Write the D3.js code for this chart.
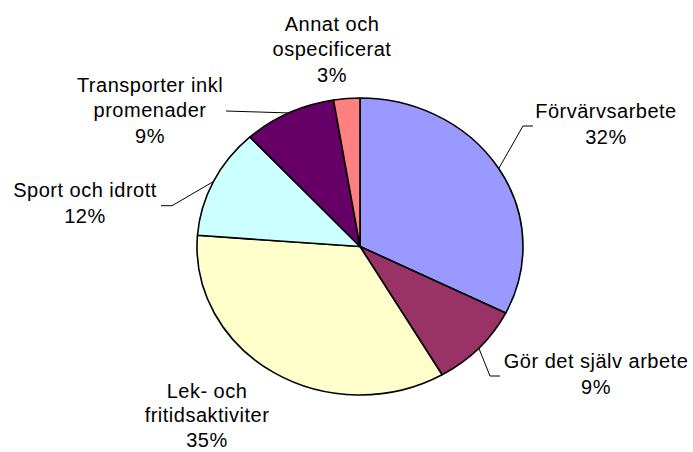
<!DOCTYPE html>
<html><head><meta charset="utf-8">
<script src="https://cdn.jsdelivr.net/npm/d3@7"></script>
<style>body{margin:0;background:#fff}svg{display:block}text{font-family:"Liberation Sans",Arial,sans-serif;font-size:20px;fill:#000;letter-spacing:0.5px}</style>
</head><body>
<script>
const categories = ["Förvärvsarbete","Gör det själv arbete","Lek- och fritidsaktiviter","Sport och idrott","Transporter inkl promenader","Annat och ospecificerat"];
const values = [32.4, 9.2, 34.6, 12.0, 9.2, 2.6];
const colors = ["#9999FF","#993366","#FFFFCC","#CCFFFF","#660066","#FF8080"];
const labelLines = [["Förvärvsarbete"],["Gör det själv arbete"],["Lek- och","fritidsaktiviter"],["Sport och idrott"],["Transporter inkl","promenader"],["Annat och","ospecificerat"]];

// layout
const W=693,H=452, cx=360, cy=246.5, rx=163, ry=148.5;
const labelLayout = [
  {x:606, y:118.3, lh:25.7, leader:[[533,126],[523,126]]},
  {x:596, y:368.3, lh:25.7, leader:[[500,376],[490,376]]},
  {x:207, y:397.5, lh:24.8, leader:null},
  {x:85,  y:197.3, lh:25.7, leader:[[161,205.7],[172,205.7]]},
  {x:150, y:91.7,  lh:25.7, leader:[[226,111]]},
  {x:332, y:30.5,  lh:25.7, leader:null}
];

const svg=d3.select("body").append("svg").attr("width",W).attr("height",H);
const data=categories.map((c,i)=>({c,v:values[i]}));
const pie=d3.pie().value(d=>d.v).sort(null);
const arcs=pie(data);
const arc=d3.arc().innerRadius(0).outerRadius(rx);
const g=svg.append("g").attr("transform",`translate(${cx},${cy}) scale(1,${ry/rx})`);
g.selectAll("path").data(arcs).join("path")
  .attr("d",arc).attr("fill",(d,i)=>colors[i])
  .attr("stroke","#000").attr("stroke-width",1.6).attr("stroke-linejoin","round")
  .attr("vector-effect","non-scaling-stroke");

const total=d3.sum(values);
arcs.forEach((a,i)=>{
  const L=labelLayout[i];
  const lines=[...labelLines[i], Math.round(a.data.v/total*100)+"%"];
  const t=svg.append("text").attr("text-anchor","middle");
  lines.forEach((s,k)=>t.append("tspan").attr("x",L.x).attr("y",L.y+k*L.lh).text(s));
  if(L.leader){
    const m=(a.startAngle+a.endAngle)/2;
    const p=[cx+rx*Math.sin(m), cy-ry*Math.cos(m)];
    svg.append("path").attr("d",d3.line()([...L.leader,p]))
      .attr("fill","none").attr("stroke","#000").attr("stroke-width",1);
  }
});
</script>
</body></html>
